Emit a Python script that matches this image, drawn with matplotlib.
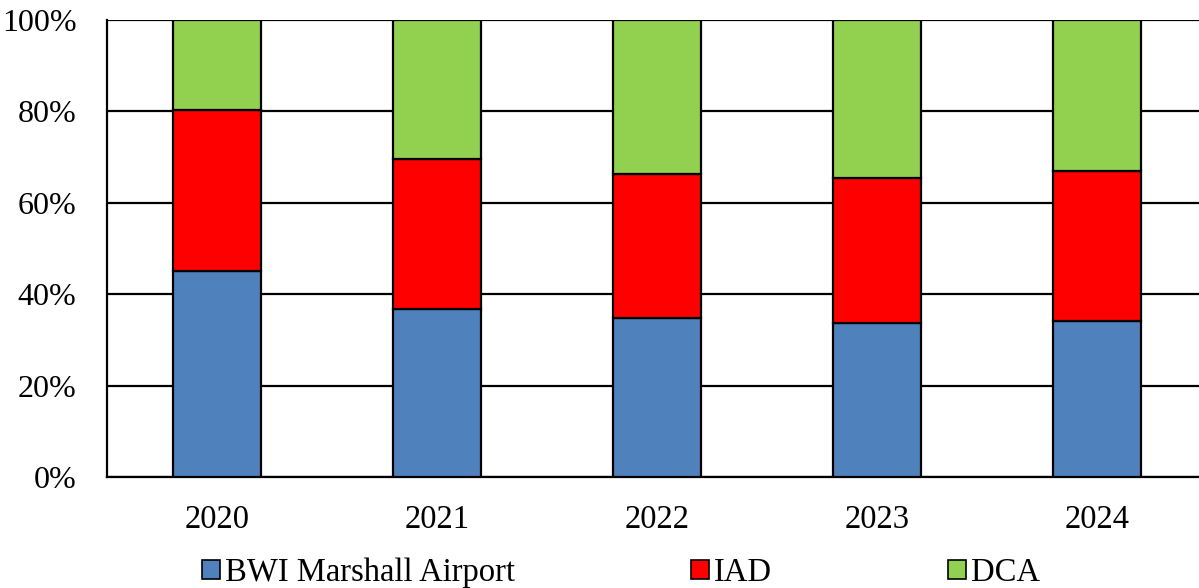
import matplotlib.pyplot as plt
from matplotlib.patches import Patch
import numpy as np

# share of passengers by airport (percent)
years = ['2020', '2021', '2022', '2023', '2024']
bwi = [45.1, 36.8, 34.9, 33.7, 34.1]
iad = [35.2, 32.8, 31.4, 31.7, 32.9]
dca = [100 - b - i for b, i in zip(bwi, iad)]

labels = ['BWI Marshall Airport', 'IAD', 'DCA']
colors = ['#4f81bd', '#ff0000', '#92d050']

plt.rcParams['font.family'] = ['Liberation Serif', 'DejaVu Serif']

fig = plt.figure(figsize=(11.99, 5.88), dpi=100)
ax = fig.add_axes([107 / 1199, 1 - 477 / 588, 1100 / 1199, 457 / 588])

x = np.arange(len(years))
bottom = np.zeros(len(years))
for vals, c in zip([bwi, iad, dca], colors):
    ax.bar(x, vals, 0.4, bottom=bottom, color=c, edgecolor='black', linewidth=1.6, zorder=3)
    bottom += np.array(vals)

ax.set_xlim(-0.5, 4.5)
ax.set_ylim(0, 100)
ax.set_yticks(range(0, 101, 20))
ax.set_yticklabels([f'{v}%' for v in range(0, 101, 20)])
ax.set_xticks(x)
ax.set_xticklabels(years)
ax.yaxis.grid(True, color='black', linewidth=1.6, zorder=0)
ax.set_axisbelow(True)
for s in ['top', 'right']:
    ax.spines[s].set_visible(False)
ax.spines['left'].set_linewidth(1.6)
ax.spines['bottom'].set_linewidth(1.6)
ax.tick_params(axis='y', length=0, pad=22, labelsize=23)
ax.tick_params(axis='x', length=0, pad=20, labelsize=23.5)

handles = [Patch(facecolor=c, edgecolor='black', linewidth=1.2) for c in colors]
fig.legend(handles, labels, loc='lower center', bbox_to_anchor=(0.518, -0.05), ncol=3,
           frameon=False, fontsize=23.5, handlelength=0.55, handleheight=0.55,
           handletextpad=0.15, columnspacing=5.4)

fig.savefig('out.png', dpi=100)
